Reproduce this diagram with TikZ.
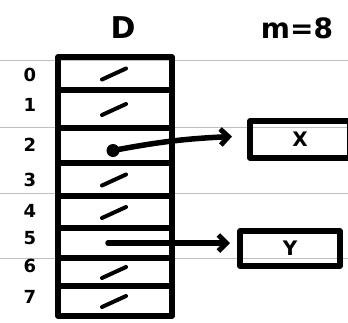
\documentclass[tikz,border=0pt]{standalone}
\usepackage{fontspec}
\setmainfont{DejaVu Sans}
\usetikzlibrary{arrows.meta,calc}
\begin{document}
\begin{tikzpicture}[x=1pt,y=-1pt,
  ink/.style={line width=5.5pt,line cap=round,line join=round},
  slot/.style={draw,ink,minimum width=114pt,anchor=north west,inner sep=0pt,outer sep=0pt},
  cell/.style={draw,ink,anchor=north west,inner sep=0pt,outer sep=0pt,font=\bfseries\fontsize{20}{20}\selectfont},
  idx/.style={font=\bfseries\fontsize{18}{18}\selectfont},
  ptr/.style={ink,-{Straight Barb[length=8pt,width=16pt,line width=5pt]}},
  nil/.style={line width=4pt,line cap=round},
  paper/.style={line width=0.7pt,draw=black!25}]
\useasboundingbox (0,0) rectangle (348,322);
% ruled paper lines
\foreach \y in {60,127,193,258} \draw[paper] (0,\y) -- (348,\y);
% slots of the table
\foreach \i/\t/\h in {0/57/33,1/90/38,2/128/35,3/163/33,4/196/32,5/228/30,6/258/28,7/286/30}
  \node[slot,minimum height=\h pt] (s\i) at (58,\t) {};
% slot indices
\foreach \i/\y in {0/75,1/105,2/145,3/180,4/211,5/238,6/266,7/297}
  \node[idx] (n\i) at (30,\y) {\i};
% empty slots
\foreach \i in {0,1,3,4,6,7}
  \draw[nil] ([xshift=-13pt,yshift=-6pt]s\i.center) -- ([xshift=11pt,yshift=5pt]s\i.center);
% title and size
\node[font=\bfseries\fontsize{30}{30}\selectfont] (D) at (123,28) {D};
\node[font=\bfseries\fontsize{28}{28}\selectfont] (m) at (297,28) {m=8};
% stored keys
\node[cell,minimum width=100pt,minimum height=37pt] (X) at (250,121) {X};
\node[cell,minimum width=100pt,minimum height=35pt] (Y) at (240,231) {Y};
% pointers
\coordinate (p2) at ([xshift=-2pt,yshift=-5pt]s2.center);
\coordinate (p5) at ([xshift=-7pt,yshift=0pt]s5.center);
\fill (p2) circle (6.5pt);
\draw[ptr] (p2) to[bend left=4] ([xshift=-18pt,yshift=3pt]X.west);
\draw[ptr] (p5) -- ([xshift=-10pt]p5 -| Y.west);
\end{tikzpicture}
\end{document}
